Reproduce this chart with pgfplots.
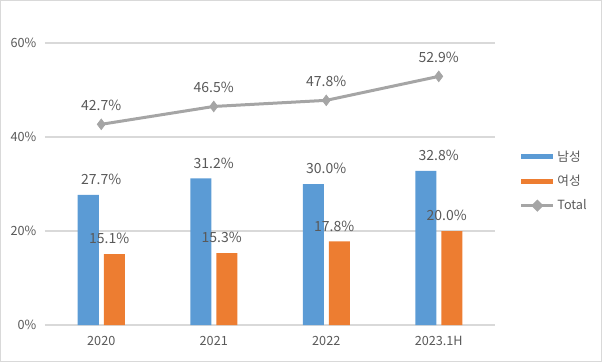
\documentclass[border=0pt]{standalone}
\usepackage{pgfplots}
\pgfplotsset{compat=1.18}
\usepackage{fontspec}
\setmainfont{Noto Sans CJK KR}
\definecolor{cblue}{HTML}{5B9BD5}
\definecolor{corange}{HTML}{ED7D31}
\definecolor{cgray}{HTML}{A5A5A5}
\definecolor{ctext}{HTML}{595959}
\definecolor{cgrid}{HTML}{D9D9D9}
\begin{document}
\begin{tikzpicture}
\draw[cgrid, line width=0.8pt] (0.4pt,0.4pt) rectangle (451.1pt,271.1pt);
\begin{axis}[
  at={(33.75pt,27.75pt)}, anchor=south west,
  scale only axis, width=337.5pt, height=211.5pt,
  xmin=-0.5, xmax=3.5, ymin=0, ymax=60,
  axis line style={draw=none},
  axis x line*=bottom,
  xtick={0,1,2,3}, xticklabels={2020,2021,2022,2023.1H},
  ytick={0,20,40,60}, yticklabels={0\%,20\%,40\%,60\%},
  major tick length=0pt,
  ymajorgrids, grid style={cgrid, line width=0.8pt},
  tick label style={font=\fontsize{9.5pt}{11pt}\selectfont, text=ctext},
  xticklabel style={yshift=-5pt},
  yticklabel style={xshift=-3pt},
  clip=false,
  legend style={at={(1.055,0.51)}, anchor=west, draw=none, fill=none,
    font=\fontsize{9.5pt}{11pt}\selectfont, text=ctext,
    row sep=5pt, inner sep=0pt, cells={anchor=west}},
  legend cell align=left,
  nodes near coords style={font=\fontsize{10.5pt}{12pt}\selectfont, text=ctext},
]
\draw[cgrid, line width=0.8pt] (axis cs:-0.5,0) -- (axis cs:3.5,0);
\addplot[ybar, bar width=15.75pt, bar shift=-9.75pt, fill=cblue, draw=none,
  point meta=explicit symbolic, nodes near coords,
  nodes near coords style={anchor=south, yshift=4pt},
  legend image code/.code={\fill[cblue] (0pt,-1.9pt) rectangle (24pt,1.9pt);}]
  coordinates {(0,27.7)[27.7\%] (1,31.2)[31.2\%] (2,30.0)[30.0\%] (3,32.8)[32.8\%]};
\addlegendentry{남성}
\addplot[ybar, bar width=15.75pt, bar shift=9.75pt, fill=corange, draw=none,
  point meta=explicit symbolic, nodes near coords,
  nodes near coords style={anchor=south, yshift=4pt, xshift=6pt},
  legend image code/.code={\fill[corange] (0pt,-1.9pt) rectangle (24pt,1.9pt);}]
  coordinates {(0,15.1)[15.1\%] (1,15.3)[15.3\%] (2,17.8)[17.8\%] (3,20.0)[20.0\%]};
\addlegendentry{여성}
\addplot[cgray, line width=2.25pt, mark=diamond*, mark size=4pt,
  mark options={solid, fill=cgray, draw=cgray, line width=0.5pt},
  point meta=explicit symbolic, nodes near coords,
  nodes near coords style={anchor=south, yshift=7pt},
  legend image code/.code={\draw[cgray, line width=2pt] (0pt,0pt) -- (24pt,0pt);
     \fill[cgray] (12pt,-3pt) -- (15pt,0pt) -- (12pt,3pt) -- (9pt,0pt) -- cycle;}]
  coordinates {(0,42.7)[42.7\%] (1,46.5)[46.5\%] (2,47.8)[47.8\%] (3,52.9)[52.9\%]};
\addlegendentry{Total}
\end{axis}
\end{tikzpicture}
\end{document}
